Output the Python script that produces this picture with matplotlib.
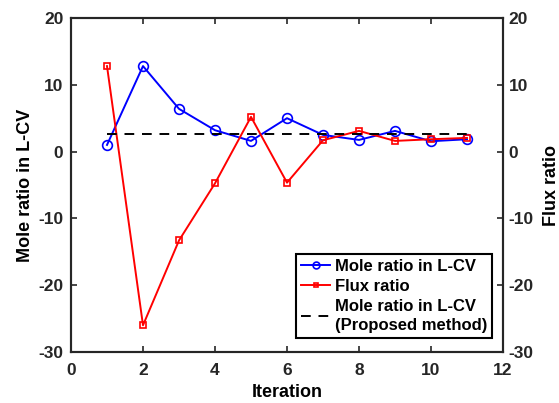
import matplotlib
matplotlib.use("Agg")
import matplotlib.pyplot as plt

plt.rcParams['font.family'] = ['Liberation Sans', 'DejaVu Sans']
plt.rcParams['font.weight'] = 'bold'
plt.rcParams['axes.unicode_minus'] = False

# data
iterations = [1, 2, 3, 4, 5, 6, 7, 8, 9, 10, 11]
mole_ratio = [1.0, 12.8, 6.4, 3.2, 1.6, 5.0, 2.5, 1.75, 3.1, 1.55, 1.85]
flux_ratio = [12.8, -26.0, -13.3, -4.75, 5.2, -4.65, 1.7, 3.1, 1.6, 1.85, 2.05]
proposed_x = [1, 11]
proposed_mole = [2.7, 2.7]

fig = plt.figure(figsize=(5.59, 4.03), dpi=100)
ax = fig.add_axes([71/559, 1 - 352/403, 432/559, 334/403])

ax.plot(iterations, mole_ratio, color='blue', lw=1.4, marker='o', ms=7,
        mfc='none', mew=1.2, label='Mole ratio in L-CV')
ax.plot(iterations, flux_ratio, color='red', lw=1.4, marker='s', ms=5,
        mfc='none', mew=1.2, label='Flux ratio')
ax.plot(proposed_x, proposed_mole, color='black', lw=1.4, ls=(0, (5, 4)),
        label='Mole ratio in L-CV\n(Proposed method)')

ax.set_xlim(0, 12)
ax.set_ylim(-30, 20)
ax.set_xticks(range(0, 13, 2))
ax.set_yticks(range(-30, 21, 10))
ax.tick_params(direction='in', top=True, labelsize=12.5, width=1.2, length=4,
               colors='#262626')
ax.tick_params(axis='y', pad=5.5)
ax.tick_params(axis='x', pad=8)
for s in ax.spines.values():
    s.set_linewidth(1.5)
    s.set_color('#262626')
ax.set_xlabel('Iteration', fontsize=13, fontweight='bold', labelpad=4.5)
ax.set_ylabel('Mole ratio in L-CV', fontsize=13, fontweight='bold', labelpad=3)

ax2 = ax.twinx()
ax2.set_ylim(-30, 20)
ax2.set_yticks(range(-30, 21, 10))
ax2.tick_params(direction='in', labelsize=12.5, width=1.2, length=4, pad=4,
                colors='#262626')
for s in ax2.spines.values():
    s.set_linewidth(1.5)
    s.set_color('#262626')
ax2.set_ylabel('Flux ratio', fontsize=13, fontweight='bold', labelpad=7)

leg = ax.legend(loc='lower right', bbox_to_anchor=(0.9745, 0.042), fontsize=12,
                frameon=True, fancybox=False, edgecolor='black',
                handlelength=1.75, handletextpad=0.25, borderpad=0.3,
                labelspacing=0.3, markerscale=0.7, framealpha=1,
                borderaxespad=0)
leg.get_frame().set_linewidth(1.5)
for t in leg.get_texts():
    t.set_linespacing(1.35)

fig.savefig('out.png', dpi=100)
